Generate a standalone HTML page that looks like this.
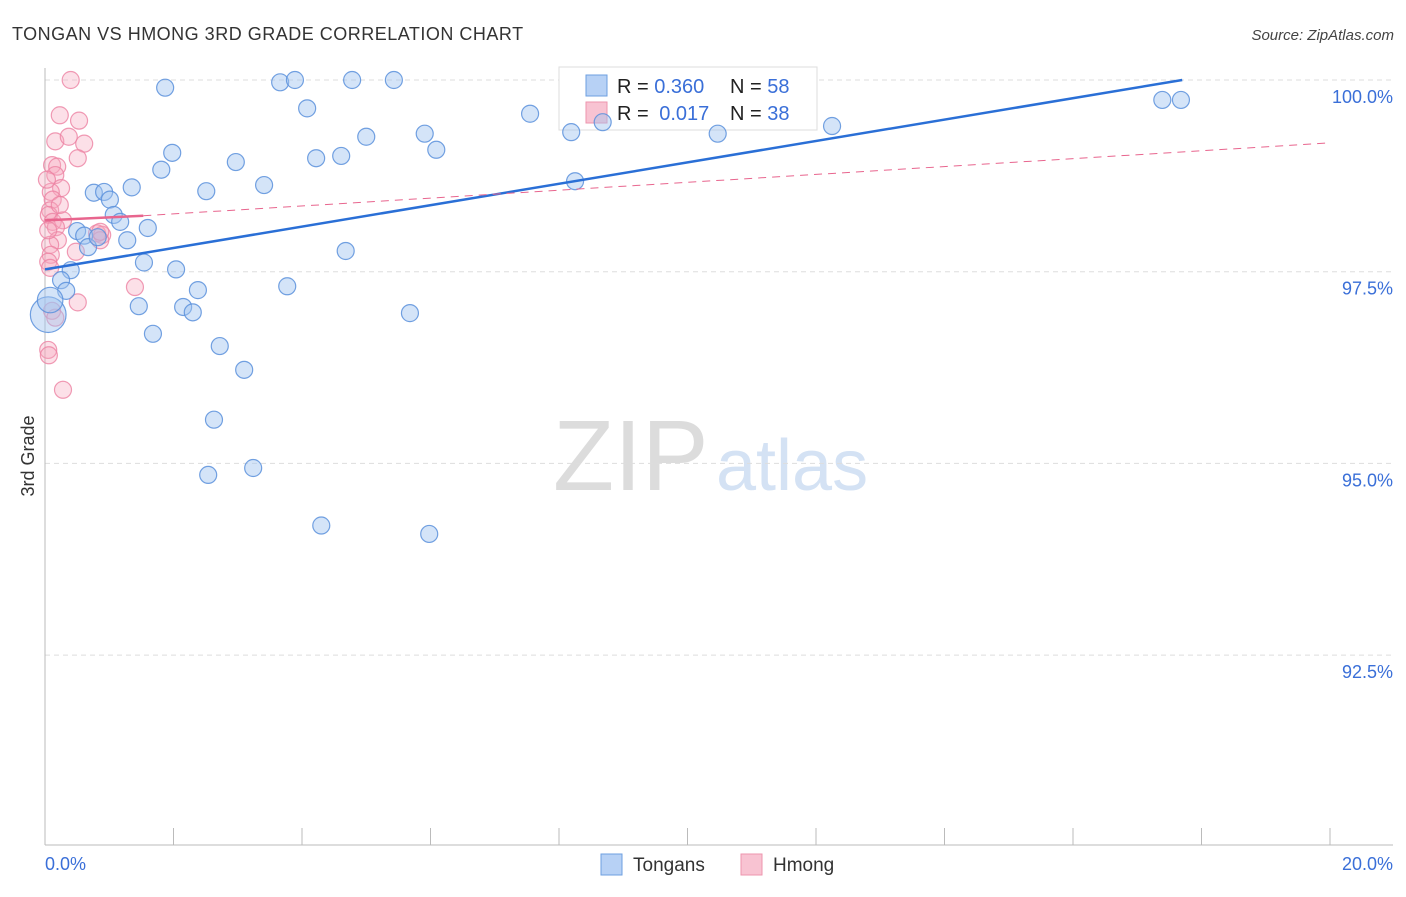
<!DOCTYPE html>
<html><head><meta charset="utf-8"><style>
body{margin:0;background:#fff;font-family:"Liberation Sans",sans-serif;}
svg text{font-family:"Liberation Sans",sans-serif;}
</style></head><body>
<svg id="chart" width="1406" height="892" xmlns="http://www.w3.org/2000/svg">
<text x="12" y="40" font-size="18" letter-spacing="0.5" fill="#333">TONGAN VS HMONG 3RD GRADE CORRELATION CHART</text>
<text x="1394" y="40" font-size="15" fill="#444" text-anchor="end" font-style="italic">Source: ZipAtlas.com</text>
<g>
<text x="553" y="490" font-size="100" fill="#dcdcdc" font-family="Liberation Serif, serif">ZIP</text>
<text x="716" y="490" font-size="72" fill="#d4e2f4">atlas</text>
</g>
<text transform="translate(34,456) rotate(-90)" font-size="18" fill="#333" text-anchor="middle">3rd Grade</text>
<g id="grid"></g>
<g id="axes"></g>
<g>
<rect x="559" y="67" width="258" height="63" fill="#fff" stroke="#ddd"/>
<rect x="586" y="75" width="21" height="21" fill="#b7d1f5" stroke="#6e9fe0"/>
<rect x="586" y="102" width="21" height="21" fill="#f8c3d2" stroke="#ee94ae"/>
<text x="617" y="93" font-size="20" fill="#222">R = <tspan fill="#3a6fd8">0.360</tspan></text>
<text x="730" y="93" font-size="20" fill="#222">N = <tspan fill="#3a6fd8">58</tspan></text>
<text x="617" y="120" font-size="20" fill="#222">R = <tspan fill="#3a6fd8" dx="5">0.017</tspan></text>
<text x="730" y="120" font-size="20" fill="#222">N = <tspan fill="#3a6fd8">38</tspan></text>
</g>
<g id="points"></g>
<g id="trends"></g>
<g>
<rect x="601" y="854" width="21" height="21" fill="#b7d1f5" stroke="#6e9fe0"/>
<text x="633" y="871" font-size="19" fill="#333">Tongans</text>
<rect x="741" y="854" width="21" height="21" fill="#f8c3d2" stroke="#ee94ae"/>
<text x="773" y="871" font-size="19" fill="#333">Hmong</text>
</g>
</svg>
<script>
const blueX=[1.87,3.66,3.89,4.78,5.43,4.08,7.55,8.19,8.68,10.47,12.25,17.39,17.68,5.91,6.09,5.00,4.61,4.22,2.97,1.98,1.81,3.41,2.51,1.35,0.76,0.92,1.01,1.07,1.17,1.60,0.50,0.61,0.67,0.82,1.28,1.54,2.04,0.40,4.68,0.25,0.33,3.77,2.38,1.46,2.15,2.30,5.68,1.68,2.72,3.10,2.63,2.54,3.24,4.30,5.98,8.25,0.05,0.08];
const blueY=[99.90,99.97,100,100,100,99.63,99.56,99.32,99.45,99.30,99.40,99.74,99.74,99.30,99.09,99.26,99.01,98.98,98.93,99.05,98.83,98.63,98.55,98.60,98.53,98.54,98.44,98.24,98.15,98.07,98.03,97.97,97.82,97.95,97.91,97.62,97.53,97.52,97.77,97.39,97.25,97.31,97.26,97.05,97.04,96.97,96.96,96.69,96.53,96.22,95.57,94.85,94.94,94.19,94.08,98.68,96.94,97.13];
const blueSize=[1,1,1,1,1,1,1,1,1,1,1,1,1,1,1,1,1,1,1,1,1,1,1,1,1,1,1,1,1,1,1,1,1,1,1,1,1,1,1,1,1,1,1,1,1,1,1,1,1,1,1,1,1,1,1,1,2.1,1.5];
const pinkX=[0.40,0.23,0.53,0.16,0.37,0.61,0.51,0.11,0.19,0.16,0.25,0.09,0.12,0.08,0.06,0.12,0.28,0.17,0.20,0.08,0.09,0.05,0.48,0.81,0.89,0.86,1.40,0.51,0.11,0.16,0.05,0.06,0.28,0.03,0.05,0.86,0.23,0.08];
const pinkY=[100,99.54,99.47,99.20,99.26,99.17,98.98,98.89,98.87,98.76,98.59,98.54,98.44,98.30,98.24,98.15,98.17,98.08,97.91,97.85,97.72,97.63,97.76,98.00,97.98,97.91,97.30,97.10,96.99,96.90,96.48,96.41,95.96,98.70,98.04,98.02,98.37,97.55];
const blueTrend=[[0,97.53],[17.7,100]];
const pinkTrend=[[0,98.17],[1.53,98.23],[20,99.18]];
const yTicks=[100,97.5,95,92.5];
const yTickLabels=["100.0%","97.5%","95.0%","92.5%"];
const xTicks=[0,2,4,6,8,10,12,14,16,18,20];

const NS="http://www.w3.org/2000/svg";
const X=v=>45+v*64.25;
const Y=v=>80+(100-v)*76.68;
function mk(tag,attrs,parent){const e=document.createElementNS(NS,tag);for(const k in attrs)e.setAttribute(k,attrs[k]);document.getElementById(parent).appendChild(e);return e;}

yTicks.forEach((t,i)=>{
  const l=mk('line',{x1:45,x2:1393,y1:Y(t),y2:Y(t),stroke:'#ddd','stroke-dasharray':'5,4'},'grid');
  
  
  const tx=mk('text',{x:1393,y:Y(t)+23,'font-size':18,fill:'#3a6fd8','text-anchor':'end'},'grid');
  tx.textContent=yTickLabels[i];
  
  
});
const ax=mk('line',{x1:45,x2:1393,y1:845,y2:845,stroke:'#bbb'},'axes');


const ay=mk('line',{x1:45,x2:45,y1:68,y2:845,stroke:'#bbb'},'axes');


xTicks.forEach(t=>{
  const l=mk('line',{x1:X(t*1),x2:X(t*1),y1:828,y2:845,stroke:'#bbb'},'axes');
  
  
});
const xl0=mk('text',{x:45,y:870,'font-size':18,fill:'#3a6fd8'},'axes');xl0.textContent='0.0%';


const xl1=mk('text',{x:1393,y:870,'font-size':18,fill:'#3a6fd8','text-anchor':'end'},'axes');xl1.textContent='20.0%';



pinkX.forEach((v,i)=>{
  const c=mk('circle',{cx:X(v),cy:Y(pinkY[i]),r:8.5,fill:'rgba(245,165,188,0.35)',stroke:'rgba(236,130,162,0.8)','stroke-width':1.2},'points');
  
  
});
blueX.forEach((v,i)=>{
  const c=mk('circle',{cx:X(v),cy:Y(blueY[i]),r:8.5*blueSize[i],fill:'rgba(160,195,240,0.45)',stroke:'rgba(90,145,220,0.85)','stroke-width':1.2},'points');
  
  
});
const bt=mk('line',{x1:X(blueTrend[0][0]),y1:Y(blueTrend[0][1]),x2:X(blueTrend[1][0]),y2:Y(blueTrend[1][1]),stroke:'#2a6fd6','stroke-width':2.5},'trends');


const ps=mk('line',{x1:X(pinkTrend[0][0]),y1:Y(pinkTrend[0][1]),x2:X(pinkTrend[1][0]),y2:Y(pinkTrend[1][1]),stroke:'#e8658e','stroke-width':2.5},'trends');


const pd=mk('line',{x1:X(pinkTrend[1][0]),y1:Y(pinkTrend[1][1]),x2:X(pinkTrend[2][0]),y2:Y(pinkTrend[2][1]),stroke:'#e8658e','stroke-width':1,'stroke-dasharray':'8,6'},'trends');


</script>
</body></html>
